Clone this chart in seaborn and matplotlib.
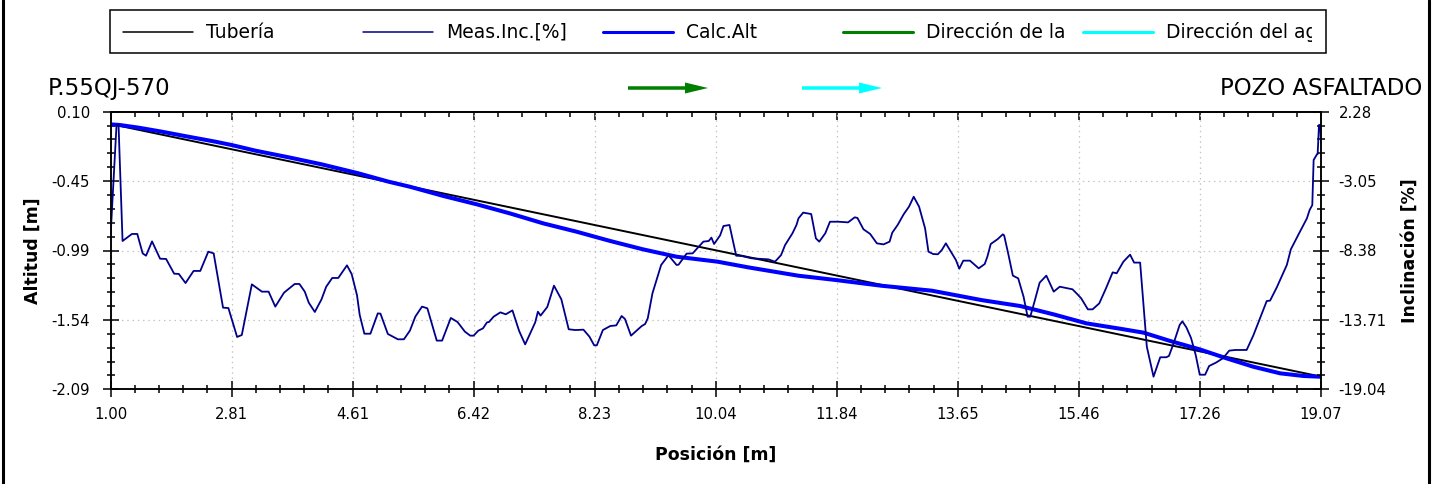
import matplotlib
matplotlib.use("Agg")
import numpy as np
import pandas as pd
import matplotlib.pyplot as plt
import seaborn as sns
from matplotlib.lines import Line2D
from matplotlib.patches import Rectangle, FancyArrow
from matplotlib.ticker import FixedLocator, FixedFormatter
from matplotlib.transforms import Bbox, TransformedBbox

# ---------------- data ----------------
pipe_pos = [1.12, 19.07]
pipe_alt = [-0.01, -1.99]

calc_pos = [1.00, 1.14, 1.42, 1.76, 2.16, 2.56, 2.81, 3.16, 3.66, 4.15,
            4.70, 5.15, 5.47, 5.97, 6.47, 6.96, 7.46, 7.96, 8.46, 8.95,
            9.45, 10.06, 10.52, 11.27, 11.83, 12.51, 13.26, 14.00, 14.58, 15.08,
            15.57, 16.07, 16.42, 16.82, 17.26, 17.66, 18.06, 18.46, 18.81, 19.07]
calc_alt = [0.000, -0.005, -0.026, -0.057, -0.097, -0.136, -0.163, -0.207, -0.260, -0.315,
            -0.386, -0.452, -0.492, -0.565, -0.631, -0.702, -0.781, -0.847, -0.920, -0.986,
            -1.044, -1.083, -1.128, -1.194, -1.228, -1.273, -1.312, -1.386, -1.433, -1.499,
            -1.570, -1.612, -1.643, -1.709, -1.775, -1.846, -1.912, -1.964, -1.985, -1.991]

inc_pos = [1.00, 1.09, 1.12, 1.18, 1.32, 1.40, 1.48, 1.53, 1.62, 1.74,
           1.83, 1.95, 2.02, 2.12, 2.24, 2.34, 2.46, 2.54, 2.68, 2.76,
           2.89, 2.96, 3.11, 3.26, 3.36, 3.46, 3.59, 3.75, 3.82, 3.90,
           3.96, 4.05, 4.15, 4.22, 4.31, 4.40, 4.53, 4.60, 4.68, 4.72,
           4.79, 4.88, 4.99, 5.03, 5.14, 5.29, 5.38, 5.47, 5.55, 5.65,
           5.73, 5.87, 5.95, 6.08, 6.18, 6.29, 6.37, 6.42, 6.49, 6.56,
           6.62, 6.65, 6.72, 6.82, 6.90, 7.00, 7.10, 7.19, 7.34, 7.38,
           7.42, 7.52, 7.62, 7.73, 7.84, 7.94, 8.06, 8.15, 8.22, 8.26,
           8.35, 8.46, 8.55, 8.63, 8.68, 8.77, 8.93, 8.98, 9.02, 9.09,
           9.22, 9.33, 9.45, 9.48, 9.60, 9.69, 9.85, 9.93, 9.97, 10.01,
           10.10, 10.15, 10.24, 10.34, 10.42, 10.57, 10.82, 10.92, 11.01, 11.07,
           11.18, 11.24, 11.27, 11.34, 11.46, 11.53, 11.58, 11.67, 11.74, 11.87,
           12.01, 12.11, 12.15, 12.24, 12.34, 12.44, 12.54, 12.63, 12.67, 12.75,
           12.84, 12.92, 12.99, 13.07, 13.16, 13.21, 13.28, 13.35, 13.41, 13.47,
           13.56, 13.62, 13.67, 13.73, 13.83, 13.96, 14.05, 14.09, 14.14, 14.24,
           14.32, 14.34, 14.40, 14.47, 14.55, 14.63, 14.69, 14.73, 14.80, 14.87,
           14.97, 15.08, 15.17, 15.36, 15.42, 15.49, 15.59, 15.66, 15.76, 15.86,
           15.96, 16.02, 16.12, 16.22, 16.28, 16.37, 16.47, 16.57, 16.67, 16.76,
           16.80, 16.87, 16.96, 17.00, 17.06, 17.13, 17.20, 17.26, 17.34, 17.40,
           17.51, 17.61, 17.70, 17.79, 17.96, 18.06, 18.26, 18.31, 18.41, 18.56,
           18.62, 18.73, 18.86, 18.90, 18.94, 18.96, 19.01, 19.02, 19.04, 19.06,
           19.07]
inc_val = [-7.32, 1.26, 1.26, -7.65, -7.11, -7.11, -8.60, -8.78, -7.68, -9.01,
           -9.03, -10.16, -10.18, -10.88, -9.95, -9.95, -8.47, -8.60, -12.77, -12.80,
           -15.02, -14.87, -10.98, -11.54, -11.54, -12.69, -11.62, -10.95, -10.95, -11.54,
           -12.39, -13.10, -12.13, -11.16, -10.49, -10.49, -9.52, -10.19, -11.82, -13.33,
           -14.77, -14.77, -13.21, -13.23, -14.79, -15.20, -15.20, -14.53, -13.46, -12.69,
           -12.82, -15.30, -15.30, -13.56, -13.87, -14.61, -14.92, -14.92, -14.54, -14.36,
           -13.90, -13.87, -13.46, -13.13, -13.28, -12.98, -14.56, -15.59, -13.90, -13.08,
           -13.38, -12.72, -11.08, -12.13, -14.43, -14.49, -14.46, -15.00, -15.66, -15.66,
           -14.49, -14.18, -14.13, -13.41, -13.64, -14.92, -14.18, -14.03, -13.59, -11.67,
           -9.49, -8.75, -9.49, -9.47, -8.62, -8.60, -7.70, -7.65, -7.39, -7.88,
           -7.22, -6.50, -6.42, -8.78, -8.80, -8.98, -9.06, -9.24, -8.73, -7.96,
           -7.06, -6.42, -5.91, -5.47, -5.58, -7.45, -7.70, -7.06, -6.17, -6.17,
           -6.22, -5.83, -5.88, -6.75, -7.11, -7.83, -7.91, -7.70, -7.01, -6.42,
           -5.60, -5.01, -4.25, -5.01, -6.68, -8.47, -8.65, -8.67, -8.34, -7.83,
           -8.60, -9.11, -9.78, -9.16, -9.16, -9.75, -9.42, -8.85, -7.88, -7.52,
           -7.14, -7.22, -8.60, -10.31, -10.52, -11.93, -13.46, -13.46, -12.18, -10.85,
           -10.31, -11.54, -11.16, -11.36, -11.67, -12.05, -12.90, -12.90, -12.44, -11.29,
           -10.06, -10.13, -9.24, -8.70, -9.31, -9.31, -15.77, -18.07, -16.58, -16.58,
           -16.48, -15.51, -14.10, -13.82, -14.28, -15.10, -16.41, -17.92, -17.92, -17.25,
           -16.97, -16.64, -16.07, -16.02, -16.02, -14.90, -12.26, -12.23, -11.21, -9.49,
           -8.29, -7.19, -5.91, -5.27, -4.89, -1.43, -0.99, -0.97, 1.26, 1.26,
           -0.15]

x_tick_labels = ["1.00", "2.81", "4.61", "6.42", "8.23", "10.04",
                 "11.84", "13.65", "15.46", "17.26", "19.07"]
alt_tick_labels = ["0.10", "-0.45", "-0.99", "-1.54", "-2.09"]
inc_tick_labels = ["2.28", "-3.05", "-8.38", "-13.71", "-19.04"]

legend_labels = ["Tubería", "Meas.Inc.[%]", "Calc.Alt",
                 "Dirección de la", "Dirección del agua"]
title_left = "P.55QJ-570"
title_right = "POZO ASFALTADO"
x_label = "Posición [m]"
alt_label = "Altitud [m]"
inc_label = "Inclinación [%]"

# ---------------- style ----------------
sns.set_style("white")
plt.rcParams["font.family"] = ["DejaVu Sans"]

C_PIPE = "#000000"
C_INC = "#00008B"
C_CALC = "#0000FF"
C_DIR_PIPE = "#008000"
C_DIR_WATER = "#00FFFF"

W, H = 1440, 484
fig = plt.figure(figsize=(W / 100, H / 100), dpi=100)


def fx(px):
    return px / W


def fy(py):
    return 1 - py / H


AX_L, AX_R, AX_T, AX_B = 110.5, 1321.0, 111.7, 389.3
ax = fig.add_axes([fx(AX_L), fy(AX_B), (AX_R - AX_L) / W, (AX_B - AX_T) / H])
ax2 = ax.twinx()

pipe_df = pd.DataFrame({"pos": pipe_pos, "alt": pipe_alt})
calc_df = pd.DataFrame({"pos": calc_pos, "alt": calc_alt})
inc_df = pd.DataFrame({"pos": inc_pos, "inc": inc_val})

sns.lineplot(data=pipe_df, x="pos", y="alt", ax=ax, color=C_PIPE, lw=1.4,
             sort=False, estimator=None, legend=False)
sns.lineplot(data=calc_df, x="pos", y="alt", ax=ax, color=C_CALC, lw=2.9,
             sort=False, estimator=None, legend=False)
sns.lineplot(data=inc_df, x="pos", y="inc", ax=ax2, color=C_INC, lw=1.3,
             sort=False, estimator=None, legend=False)

# ---------------- axes scales ----------------
x_vals = [float(s) for s in x_tick_labels]
alt_vals = [float(s) for s in alt_tick_labels]
inc_vals = [float(s) for s in inc_tick_labels]

x_major = np.linspace(x_vals[0], x_vals[-1], len(x_vals))
x_minor = np.linspace(x_vals[0], x_vals[-1], (len(x_vals) - 1) * 5 + 1)
alt_major = np.linspace(alt_vals[0], alt_vals[-1], len(alt_vals))
alt_minor = np.linspace(alt_vals[0], alt_vals[-1], (len(alt_vals) - 1) * 5 + 1)
inc_major = np.linspace(inc_vals[0], inc_vals[-1], len(inc_vals))
inc_minor = np.linspace(inc_vals[0], inc_vals[-1], (len(inc_vals) - 1) * 5 + 1)

ax.set_xlim(x_vals[0], x_vals[-1])
ax.set_ylim(alt_vals[-1], alt_vals[0])
ax2.set_ylim(inc_vals[-1], inc_vals[0])

ax.xaxis.set_major_locator(FixedLocator(x_major))
ax.xaxis.set_major_formatter(FixedFormatter(x_tick_labels))
ax.xaxis.set_minor_locator(FixedLocator(x_minor))
ax.yaxis.set_major_locator(FixedLocator(alt_major))
ax.yaxis.set_major_formatter(FixedFormatter(alt_tick_labels))
ax.yaxis.set_minor_locator(FixedLocator(alt_minor))
ax2.yaxis.set_major_locator(FixedLocator(inc_major))
ax2.yaxis.set_major_formatter(FixedFormatter(inc_tick_labels))
ax2.yaxis.set_minor_locator(FixedLocator(inc_minor))

SP_LW = 1.1
for a in (ax, ax2):
    for s in a.spines.values():
        s.set_linewidth(SP_LW)
        s.set_color("black")

MAJ, MIN = 11.5, 5.8
TICK_FS = 10.7
ax.tick_params(axis="x", which="both", direction="inout", bottom=True, top=False,
               width=SP_LW, color="black", labelsize=TICK_FS, pad=7.0)
ax.tick_params(axis="x", which="major", length=MAJ)
ax.tick_params(axis="x", which="minor", length=MIN)
ax.tick_params(axis="y", which="both", direction="inout", left=True, right=False,
               width=SP_LW, color="black", labelsize=TICK_FS, pad=9.0)
ax.tick_params(axis="y", which="major", length=MAJ)
ax.tick_params(axis="y", which="minor", length=MIN)
ax2.tick_params(axis="y", which="both", direction="inout", right=True, left=False,
                width=SP_LW, color="black", labelsize=TICK_FS, pad=7.0)
ax2.tick_params(axis="y", which="major", length=MAJ)
ax2.tick_params(axis="y", which="minor", length=MIN)

# inward ticks along the top edge
top = ax.secondary_xaxis("top")
top.xaxis.set_major_locator(FixedLocator(x_major))
top.xaxis.set_minor_locator(FixedLocator(x_minor))
top.tick_params(axis="x", which="both", direction="in", width=SP_LW,
                labeltop=False, color="black")
top.tick_params(axis="x", which="major", length=MAJ / 2)
top.tick_params(axis="x", which="minor", length=MIN / 2 + 0.8)
top.spines["top"].set_linewidth(SP_LW)

ax.grid(True, which="major", axis="both", color="#c4c4c4", lw=0.9,
        linestyle=(0, (1.2, 3.0)))
ax2.grid(False)

for lbl in ax.get_xticklabels() + ax.get_yticklabels() + ax2.get_yticklabels():
    lbl.set_color("black")

ax.set_xlabel(x_label, fontsize=12.5, fontweight="bold", color="black")
ax.xaxis.set_label_coords(0.5, (AX_B - 455) / (AX_B - AX_T))
ax.xaxis.label.set_verticalalignment("center")
ax.set_ylabel(alt_label, fontsize=12.5, fontweight="bold", color="black",
              rotation=90, rotation_mode="default", va="center", ha="center")
ax.yaxis.set_label_coords((32.5 - AX_L) / (AX_R - AX_L), 0.5)
ax2.set_ylabel(inc_label, fontsize=12.5, fontweight="bold", color="black",
               rotation=90, rotation_mode="default", va="center", ha="center")
ax2.yaxis.set_label_coords((1410 - AX_L) / (AX_R - AX_L), 0.5)

# ---------------- titles ----------------
fig.text(fx(48), fy(95), title_left, fontsize=16.5, ha="left", va="baseline",
         color="black")
fig.text(fx(1422), fy(95), title_right, fontsize=16.5, ha="right", va="baseline",
         color="black")

# flow direction arrows
for x0, col in ((628, C_DIR_PIPE), (802, C_DIR_WATER)):
    fig.add_artist(FancyArrow(x0 / 100, (H - 88) / 100, 0.80, 0.0,
                              width=0.035, head_width=0.11, head_length=0.23,
                              length_includes_head=True, color=col, lw=0,
                              transform=fig.dpi_scale_trans))

# ---------------- legend box ----------------
LG_L, LG_R, LG_T, LG_B = 110, 1326, 10, 53
lg_box = Rectangle((fx(LG_L), fy(LG_B)), (LG_R - LG_L) / W, (LG_B - LG_T) / H,
                   transform=fig.transFigure, fill=True, facecolor="white",
                   edgecolor="black", lw=1.1)
fig.add_artist(lg_box)
clip = TransformedBbox(Bbox([[fx(LG_L), fy(LG_B)], [fx(1312), fy(LG_T)]]),
                       fig.transFigure)
styles = [(C_PIPE, 1.1), (C_INC, 1.1), (C_CALC, 2.2), (C_DIR_PIPE, 2.2),
          (C_DIR_WATER, 2.2)]
y_mid = fy(32)
for i, (label, (col, lw)) in enumerate(zip(legend_labels, styles)):
    c0 = LG_L + 240 * i
    fig.add_artist(Line2D([fx(c0 + 13), fx(c0 + 83)], [y_mid, y_mid],
                          color=col, lw=lw, transform=fig.transFigure))
    t = fig.text(fx(c0 + 96), y_mid, label, fontsize=13.5, ha="left",
                 va="center", color="black")
    t.set_clip_box(clip)
    t.set_clip_on(True)

# outer frame
for px in (2.5, 1429):
    fig.add_artist(Line2D([fx(px), fx(px)], [0, 1], color="black", lw=2.2,
                          transform=fig.transFigure))

fig.savefig("out.png", dpi=100)
